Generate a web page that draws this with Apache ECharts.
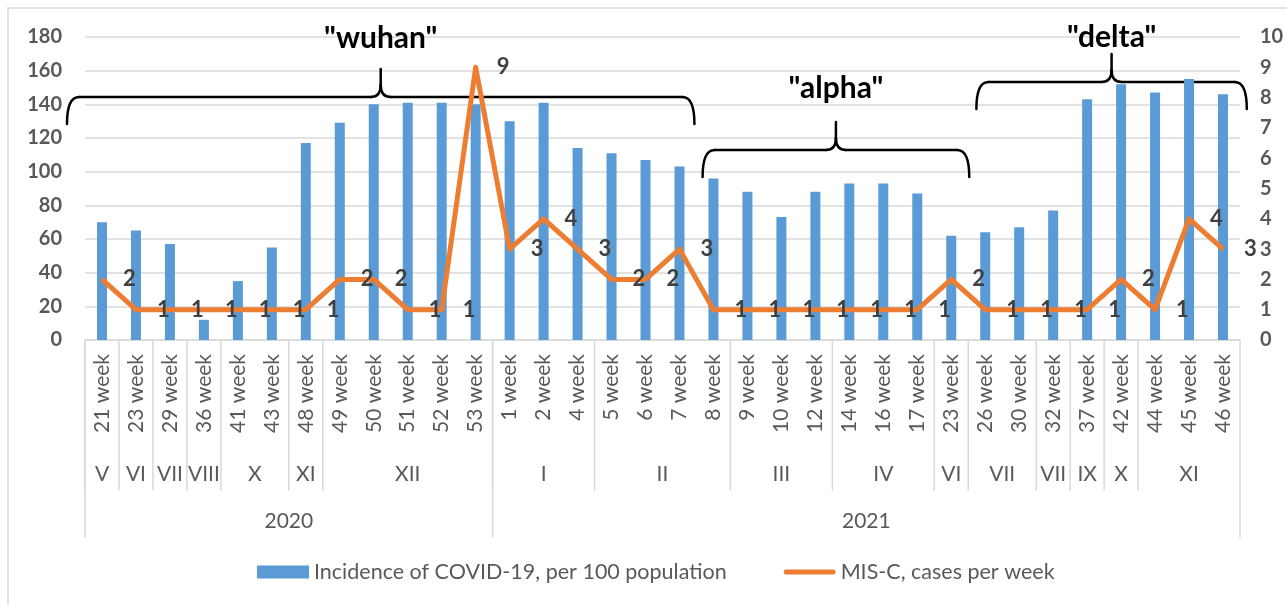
<!DOCTYPE html>
<html>
<head>
<meta charset="utf-8">
<script src="https://cdn.jsdelivr.net/npm/echarts@6/dist/echarts.min.js"></script>
<style>
  html, body { margin: 0; padding: 0; background: #fff; }
  #chart { width: 1287px; height: 605px; }
</style>
</head>
<body>
<div id="chart"></div>
<script>
// categories (week of year), grouped by month and year
var weeks = ['21 week', '23 week', '29 week', '36 week', '41 week', '43 week', '48 week',
  '49 week', '50 week', '51 week', '52 week', '53 week',
  '1 week', '2 week', '4 week', '5 week', '6 week', '7 week', '8 week', '9 week', '10 week',
  '12 week', '14 week', '16 week', '17 week', '23 week', '26 week', '30 week', '32 week',
  '37 week', '42 week', '44 week', '45 week', '46 week'];
var months = ['V', 'VI', 'VII', 'VIII', 'X', 'XI', 'XII', 'I', 'II', 'III', 'IV', 'VI', 'VII', 'VII', 'IX', 'X', 'XI'];
var monthSpans = [1, 1, 1, 1, 2, 1, 5, 3, 4, 3, 3, 1, 2, 1, 1, 1, 3];
var years = ['2020', '2021'];
var yearSpans = [12, 22];

// series values
var incidence = [70, 65, 57, 12, 35, 55, 117, 129, 140, 141, 141, 140,
  130, 141, 114, 111, 107, 103, 96, 88, 73, 88, 93, 93, 87, 62, 64, 67, 77,
  143, 152, 147, 155, 146];
var misc = [2, 1, 1, 1, 1, 1, 1, 2, 2, 1, 1, 9,
  3, 4, 3, 2, 2, 3, 1, 1, 1, 1, 1, 1, 1, 2, 1, 1, 1,
  1, 2, 1, 4, 3];

var seriesNames = ['Incidence of COVID-19, per 100 population', 'MIS-C, cases per week'];

// variant periods (category index span, brace height in left-axis units)
var variants = ['"wuhan"', '"alpha"', '"delta"'];
var variantFrom = [-1.03, 17.68, 25.74];
var variantTo = [17.44, 25.53, 33.7];
var variantLevel = [144.4, 112.9, 153.3];
var variantText = [179.4, 149.7, 180];

var GRAY = '#595959', GRID = '#d9d9d9', FONT = 'Lato';
var chart = echarts.init(document.getElementById('chart'));

chart.setOption({
  animation: false,
  textStyle: { fontFamily: FONT },
  grid: { left: 85, right: 47, top: 37, bottom: 265 },
  legend: {
    left: 257,
    top: 561,
    padding: 0,
    itemWidth: 52,
    itemHeight: 13,
    itemGap: 57,
    textStyle: { fontSize: 21.5, color: GRAY, fontFamily: FONT },
    data: [
      { name: seriesNames[0], icon: 'rect' },
      { name: seriesNames[1], icon: 'path://M2,0 L50,0 Q52,0 52,2.5 Q52,5 50,5 L2,5 Q0,5 0,2.5 Q0,0 2,0 Z' }
    ]
  },
  xAxis: {
    type: 'category',
    data: weeks,
    axisLine: { lineStyle: { color: GRID, width: 1.5 } },
    axisTick: { show: false },
    axisLabel: { interval: 0, rotate: 90, margin: 14, fontSize: 21, color: GRAY }
  },
  yAxis: [{
    type: 'value',
    min: 0,
    max: 180,
    interval: 20,
    axisLine: { show: false },
    axisTick: { show: false },
    splitLine: { lineStyle: { color: GRID, width: 1.5 } },
    axisLabel: { margin: 23, fontSize: 20, fontWeight: 'bold', color: GRAY }
  }, {
    type: 'value',
    min: 0,
    max: 10,
    interval: 1,
    axisLine: { show: false },
    axisTick: { show: false },
    splitLine: { show: false },
    axisLabel: { margin: 20, fontSize: 20, fontWeight: 'bold', color: GRAY }
  }],
  series: [{
    name: seriesNames[0],
    type: 'bar',
    barWidth: 10,
    itemStyle: { color: '#5b9bd5' },
    data: incidence
  }, {
    name: seriesNames[1],
    type: 'line',
    yAxisIndex: 1,
    symbol: 'circle',
    symbolSize: 2,
    itemStyle: { color: '#ed7d31' },
    lineStyle: { color: '#ed7d31', width: 5, join: 'round' },
    label: {
      show: true,
      position: 'right',
      distance: 20,
      fontSize: 22,
      fontWeight: 'bold',
      color: '#404040'
    },
    z: 3,
    data: misc
  }]
});

// multi-level axis, variant braces and frame, placed with the chart's own scales
function drawExtras() {
  var x0 = chart.convertToPixel({ xAxisIndex: 0 }, 0);
  var step = chart.convertToPixel({ xAxisIndex: 0 }, 1) - x0;
  var xAt = function (i) { return x0 + i * step; };
  var yZero = chart.convertToPixel({ yAxisIndex: 0 }, 0);
  var yTop = chart.convertToPixel({ yAxisIndex: 0 }, 180);
  var yAt = function (v) { return yZero + (yTop - yZero) * v / 180; };
  var els = [];

  els.push({
    type: 'rect', shape: { x: 8, y: 8, width: 1300, height: 620 },
    style: { fill: 'none', stroke: GRID, lineWidth: 1.5 }, silent: true
  });

  function seg(x1, y1, x2, y2, color, w) {
    els.push({
      type: 'line', shape: { x1: x1, y1: y1, x2: x2, y2: y2 },
      style: { stroke: color, lineWidth: w, lineCap: 'round' }, silent: true
    });
  }
  function curve(x1, y1, cx, cy, x2, y2) {
    els.push({
      type: 'bezierCurve', shape: { x1: x1, y1: y1, cpx1: cx, cpy1: cy, x2: x2, y2: y2 },
      style: { stroke: '#000', lineWidth: 2.5, fill: 'none', lineCap: 'round' }, silent: true
    });
  }
  function label(text, x, y, size, weight, color) {
    els.push({
      type: 'text', x: x, y: y, silent: true,
      style: {
        text: text, align: 'center', verticalAlign: 'middle',
        fontSize: size, fontWeight: weight, fontFamily: FONT, fill: color
      }
    });
  }

  var pos = 0;
  months.forEach(function (m, k) {
    var a = pos - 0.5, b = pos + monthSpans[k] - 0.5;
    seg(xAt(a), yZero, xAt(a), yZero + 150, GRID, 1.5);
    label(m, xAt((a + b) / 2), yZero + 134, 21, 'normal', GRAY);
    pos += monthSpans[k];
  });
  pos = 0;
  years.forEach(function (yname, k) {
    var a = pos - 0.5, b = pos + yearSpans[k] - 0.5;
    seg(xAt(a), yZero, xAt(a), yZero + 197, GRID, 1.5);
    if (k === years.length - 1) seg(xAt(b), yZero, xAt(b), yZero + 197, GRID, 1.5);
    label(yname, xAt((a + b) / 2), yZero + 181, 21, 'normal', GRAY);
    pos += yearSpans[k];
  });

  variants.forEach(function (name, k) {
    var xa = xAt(variantFrom[k]), xb = xAt(variantTo[k]);
    var xm = (xa + xb) / 2, y = yAt(variantLevel[k]);
    curve(xa, y + 27, xa, y, xa + 12, y);
    seg(xa + 12, y, xm - 10, y, '#000', 2.5);
    curve(xm - 10, y, xm, y, xm, y - 12);
    seg(xm, y - 12, xm, y - 28, '#000', 2.5);
    curve(xm, y - 12, xm, y, xm + 10, y);
    seg(xm + 10, y, xb - 12, y, '#000', 2.5);
    curve(xb - 12, y, xb, y, xb, y + 27);
    label(name, xm, yAt(variantText[k]), 30, 'bold', '#000');
  });

  chart.setOption({ graphic: els });
}
drawExtras();
</script>
</body>
</html>
